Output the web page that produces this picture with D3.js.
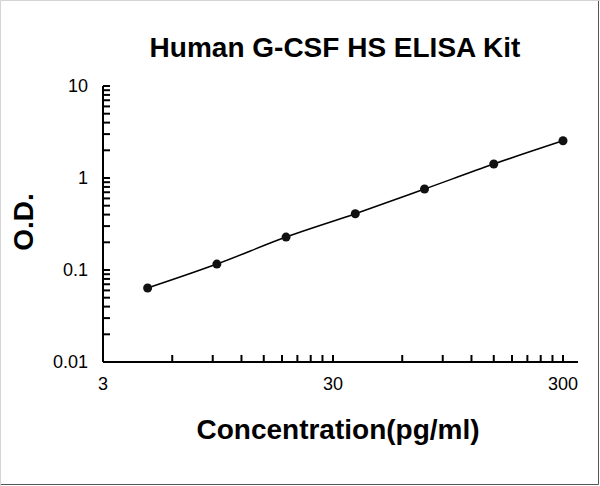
<!DOCTYPE html>
<html>
<head>
<meta charset="utf-8">
<script src="https://cdn.jsdelivr.net/npm/d3@7"></script>
<style>
  body { margin: 0; background: #fff; }
  svg { display: block; }
</style>
</head>
<body>
<div id="chart"></div>
<script>
// standard curve data (pg/ml vs O.D.)
const concentrations = [4.69, 9.38, 18.75, 37.5, 75, 150, 300];
const odValues = [0.0637, 0.116, 0.228, 0.409, 0.759, 1.42, 2.54];

const xTickLabels = [3, 30, 300];
const yTickLabels = [0.01, 0.1, 1, 10];

const W = 600, H = 486;
const plot = { left: 103, right: 563, top: 86, bottom: 362 };

const svg = d3.select('#chart')
    .append('svg')
    .attr('width', W)
    .attr('height', H);

// frame around the picture
svg.append('rect')
    .attr('x', 0).attr('y', 0)
    .attr('width', W).attr('height', H)
    .attr('fill', '#fff');
svg.append('path')
    .attr('d', `M0.5,${H} L0.5,0.5 L${W},0.5`)
    .attr('fill', 'none')
    .attr('stroke', '#d4d4d4');
svg.append('path')
    .attr('d', `M1,${H - 1.5} L${W - 1.5},${H - 1.5} L${W - 1.5},1`)
    .attr('fill', 'none')
    .attr('stroke', '#555');

// scales
const x = d3.scaleLog()
    .domain([3, 300])
    .range([plot.left, plot.right]);
const y = d3.scaleLog()
    .domain([0.01, 10])
    .range([plot.bottom, plot.top]);

// minor ticks: multiples of 3 on x, 1..9 on y
const xMinor = [];
[3, 30].forEach(d => { for (let k = 2; k <= 10; k++) xMinor.push(d * k); });
const yMinor = [];
[0.01, 0.1, 1].forEach(d => { for (let k = 2; k <= 9; k++) yMinor.push(d * k); });

const axisColor = '#000';

// x axis line (extends a bit past 300 like the original)
svg.append('line')
    .attr('x1', plot.left).attr('y1', plot.bottom)
    .attr('x2', plot.right + 15).attr('y2', plot.bottom)
    .attr('stroke', axisColor).attr('stroke-width', 2);

// y axis line
svg.append('line')
    .attr('x1', plot.left).attr('y1', plot.top)
    .attr('x2', plot.left).attr('y2', plot.bottom)
    .attr('stroke', axisColor).attr('stroke-width', 2);

// x ticks (inward)
svg.selectAll('.xtick')
    .data(xMinor)
    .enter().append('line')
    .attr('class', 'xtick')
    .attr('x1', d => x(d)).attr('x2', d => x(d))
    .attr('y1', plot.bottom).attr('y2', plot.bottom - 7)
    .attr('stroke', axisColor).attr('stroke-width', 2);

// y ticks (inward)
svg.selectAll('.ytick')
    .data(yMinor.concat(yTickLabels))
    .enter().append('line')
    .attr('class', 'ytick')
    .attr('x1', plot.left).attr('x2', plot.left + 7)
    .attr('y1', d => y(d)).attr('y2', d => y(d))
    .attr('stroke', axisColor).attr('stroke-width', 2);

const tickFont = '"Liberation Sans", Arial, sans-serif';

// tick labels
svg.selectAll('.xlabel')
    .data(xTickLabels)
    .enter().append('text')
    .attr('x', d => x(d))
    .attr('y', plot.bottom + 28)
    .attr('text-anchor', 'middle')
    .style('font-family', tickFont)
    .style('font-size', '18px')
    .style('fill', '#000')
    .text(d => d);

svg.selectAll('.ylabel')
    .data(yTickLabels)
    .enter().append('text')
    .attr('x', plot.left - 15)
    .attr('y', d => y(d) + 6)
    .attr('text-anchor', 'end')
    .style('font-family', tickFont)
    .style('font-size', '18px')
    .style('fill', '#000')
    .text(d => d);

// fitted curve
const line = d3.line()
    .x((d, i) => x(concentrations[i]))
    .y(d => y(d))
    .curve(d3.curveMonotoneX);

svg.append('path')
    .datum(odValues)
    .attr('d', line)
    .attr('fill', 'none')
    .attr('stroke', '#000')
    .attr('stroke-width', 1.5);

// points
svg.selectAll('.pt')
    .data(odValues)
    .enter().append('circle')
    .attr('cx', (d, i) => x(concentrations[i]))
    .attr('cy', d => y(d))
    .attr('r', 4.5)
    .attr('fill', '#111');

// titles
svg.append('text')
    .attr('x', 335)
    .attr('y', 57)
    .attr('text-anchor', 'middle')
    .style('font-family', tickFont)
    .style('font-weight', 'bold')
    .style('font-size', '28px')
    .style('fill', '#000')
    .text('Human G-CSF HS ELISA Kit');

svg.append('text')
    .attr('x', 338)
    .attr('y', 439)
    .attr('text-anchor', 'middle')
    .style('font-family', tickFont)
    .style('font-weight', 'bold')
    .style('font-size', '28px')
    .style('fill', '#000')
    .text('Concentration(pg/ml)');

svg.append('text')
    .attr('transform', 'translate(33,222) rotate(-90)')
    .attr('text-anchor', 'middle')
    .style('font-family', tickFont)
    .style('font-weight', 'bold')
    .style('font-size', '28px')
    .style('fill', '#000')
    .text('O.D.');
</script>
</body>
</html>
